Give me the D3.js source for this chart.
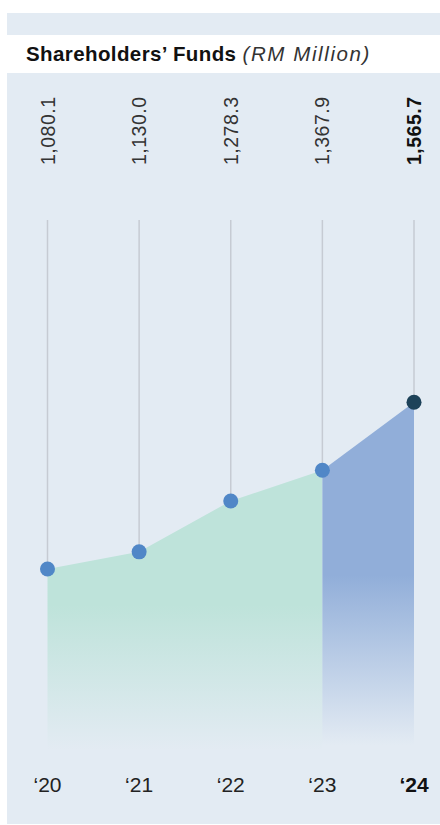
<!DOCTYPE html>
<html>
<head>
<meta charset="utf-8">
<script src="https://cdn.jsdelivr.net/npm/d3@7"></script>
<style>
  body { margin: 0; background: #ffffff; }
  text { font-family: "Liberation Sans", Arial, sans-serif; }
</style>
</head>
<body>
<div id="chart"></div>
<script>
// Chart data
var years = ["2020", "2021", "2022", "2023", "2024"];
var yearLabels = ["\u201820", "\u201821", "\u201822", "\u201823", "\u201824"];
var funds = [1080.1, 1130.0, 1278.3, 1367.9, 1565.7];
var valueLabels = ["1,080.1", "1,130.0", "1,278.3", "1,367.9", "1,565.7"];

// SVG area dimensions
var svgWidth = 440;
var svgHeight = 825;

// Layout of the chart area
var plotLeft = 47.5;
var plotRight = 414;
var baseY = 750;
var gridTop = 220;

var svg = d3.select("#chart")
  .append("svg")
  .attr("width", svgWidth)
  .attr("height", svgHeight);

// Gradients for the two area sections
var defs = svg.append("defs");

var greenGrad = defs.append("linearGradient")
  .attr("id", "greenGrad")
  .attr("gradientUnits", "userSpaceOnUse")
  .attr("x1", 0).attr("x2", 0)
  .attr("y1", 605).attr("y2", baseY);
greenGrad.append("stop").attr("offset", "0%").attr("stop-color", "#bee3da").attr("stop-opacity", 1);
greenGrad.append("stop").attr("offset", "100%").attr("stop-color", "#bee3da").attr("stop-opacity", 0);

var blueGrad = defs.append("linearGradient")
  .attr("id", "blueGrad")
  .attr("gradientUnits", "userSpaceOnUse")
  .attr("x1", 0).attr("x2", 0)
  .attr("y1", 575).attr("y2", baseY - 5);
blueGrad.append("stop").attr("offset", "0%").attr("stop-color", "#91aed9").attr("stop-opacity", 1);
blueGrad.append("stop").attr("offset", "100%").attr("stop-color", "#91aed9").attr("stop-opacity", 0);

// Background panels
svg.append("rect")
  .attr("x", 7).attr("y", 13)
  .attr("width", svgWidth - 7).attr("height", 22)
  .attr("fill", "#e3ebf3");

svg.append("rect")
  .attr("x", 7).attr("y", 73)
  .attr("width", svgWidth - 7).attr("height", 751)
  .attr("fill", "#e3ebf3");

// Title
var title = svg.append("text")
  .attr("x", 26)
  .attr("y", 61)
  .attr("font-size", "20.5px")
  .attr("fill", "#111");
title.append("tspan")
  .attr("font-weight", "bold")
  .attr("letter-spacing", "0.4px")
  .text("Shareholders\u2019 Funds ");
title.append("tspan")
  .attr("font-style", "italic")
  .attr("letter-spacing", "1.6px")
  .attr("fill", "#333")
  .text("(RM Million)");

// Scales
var xScale = d3.scalePoint()
  .domain(years)
  .range([plotLeft, plotRight]);

var yScale = d3.scaleLinear()
  .domain([funds[0], funds[4]])
  .range([569, 402.3]);

var data = years.map(function(y, i) {
  return { year: y, value: funds[i], label: valueLabels[i], yearLabel: yearLabels[i], last: i === years.length - 1 };
});

// Vertical grid lines, down to each point
svg.append("g")
  .selectAll("line")
  .data(data)
  .enter()
  .append("line")
  .attr("x1", d => xScale(d.year))
  .attr("x2", d => xScale(d.year))
  .attr("y1", gridTop)
  .attr("y2", d => yScale(d.value))
  .attr("stroke", "#c6cbd3")
  .attr("stroke-width", 1.5);

// Areas: green for 2020-2023, blue for 2023-2024
var area = d3.area()
  .x(d => xScale(d.year))
  .y0(baseY)
  .y1(d => yScale(d.value));

svg.append("path")
  .datum(data.slice(0, 4))
  .attr("d", area)
  .attr("fill", "url(#greenGrad)");

svg.append("path")
  .datum(data.slice(3))
  .attr("d", area)
  .attr("fill", "url(#blueGrad)");

// Points
svg.append("g")
  .selectAll("circle")
  .data(data)
  .enter()
  .append("circle")
  .attr("cx", d => xScale(d.year))
  .attr("cy", d => yScale(d.value))
  .attr("r", 7.5)
  .attr("fill", d => d.last ? "#1d4259" : "#5087c7");

// Rotated value labels
svg.append("g")
  .selectAll("text")
  .data(data)
  .enter()
  .append("text")
  .attr("transform", d => `translate(${xScale(d.year)}, 165) rotate(-90)`)
  .attr("dy", "0.36em")
  .attr("font-size", "19.5px")
  .attr("letter-spacing", "0.5px")
  .attr("font-weight", d => d.last ? "bold" : "normal")
  .attr("fill", d => d.last ? "#111" : "#333")
  .text(d => d.label);

// Year labels
svg.append("g")
  .selectAll("text")
  .data(data)
  .enter()
  .append("text")
  .attr("x", d => xScale(d.year))
  .attr("y", 792)
  .attr("text-anchor", "middle")
  .attr("font-size", "21px")
  .attr("font-weight", d => d.last ? "bold" : "normal")
  .attr("fill", d => d.last ? "#111" : "#222")
  .text(d => d.yearLabel);
</script>
</body>
</html>
